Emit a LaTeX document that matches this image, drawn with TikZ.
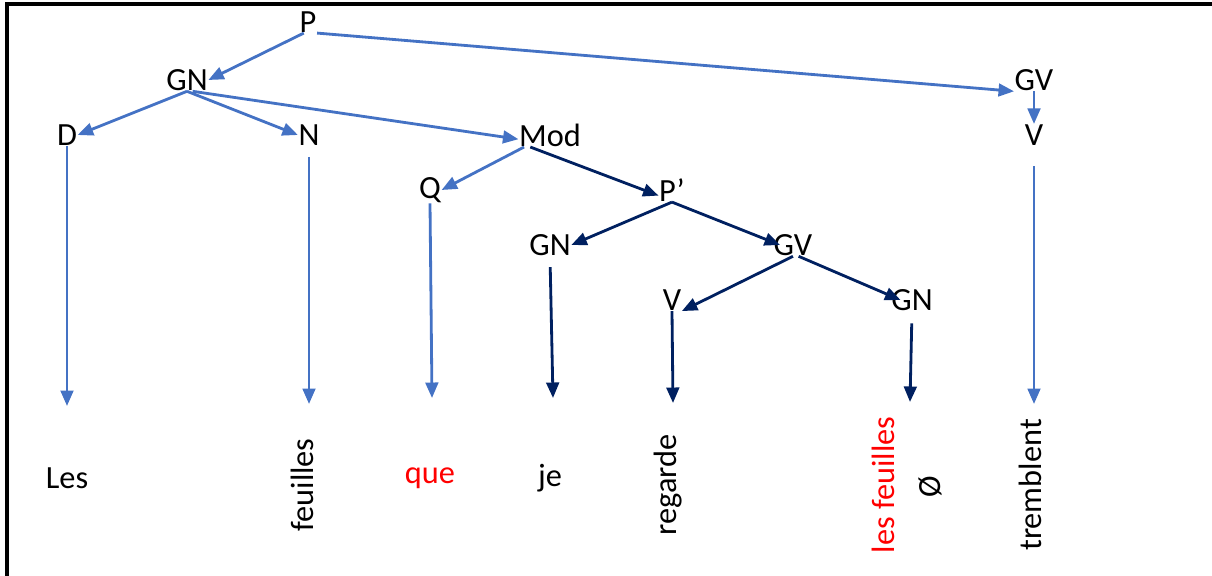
\documentclass[tikz,border=0pt]{standalone}
\usepackage{fontspec}
\setmainfont{Carlito}
\usetikzlibrary{arrows.meta,positioning}
\definecolor{bleu}{RGB}{68,114,196}
\definecolor{marine}{RGB}{0,32,96}
\tikzstyle{cat} = [inner sep=0.5pt, outer sep=0pt, font=\fontsize{23}{27}\selectfont, text=black]
\tikzstyle{mot} = [cat, anchor=center]
\tikzstyle{motv} = [mot, rotate=90]
\tikzstyle{lien} = [draw=bleu, line width=2pt, -{Triangle[length=11pt, width=9pt]}]
\tikzstyle{lien2} = [lien, draw=marine]

\begin{document}
\begin{tikzpicture}[x=0.025cm, y=-0.025cm]
    \useasboundingbox (0,0) rectangle (1212,576);
    \draw[line width=2.2pt] (7,576) -- (7,4) -- (1212,4);

    % categories
    \node[cat] (p) at (308,22) {P};
    \node[cat] (gn) at (187,80) {GN};
    \node[cat] (gv) at (1034,80) {GV};
    \node[cat] (d) at (67,135) {D};
    \node[cat] (n) at (309,135) {N};
    \node[cat] (mod) at (550,135) {Mod};
    \node[cat] (vr) at (1034,135) {V};
    \node[cat] (q) at (430,190) {Q};
    \node[cat] (pp) at (672,190) {P’};
    \node[cat] (gnb) at (550,245) {GN};
    \node[cat] (gvb) at (793,245) {GV};
    \node[cat] (vb) at (672,300) {V};
    \node[cat] (gnc) at (912,300) {GN};

    % words
    \node[mot] (les) at (67,478) {Les};
    \node[motv] (feuilles) at (302,485) {feuilles};
    \node[mot, text=red] (que) at (430,478) {que};
    \node[mot] (je) at (550,478) {je};
    \node[motv] (regarde) at (668,485) {regarde};
    \node[motv, text=red] (lesfeuilles) at (883,485) {les feuilles};
    \node[motv] (vide) at (930,487) {Ø};
    \node[motv] (tremblent) at (1030,485) {tremblent};

    \coordinate (dend) at (67,406);
    \coordinate (nend) at (309,404);
    \coordinate (qend) at (432,398);
    \coordinate (gnbend) at (553,398);
    \coordinate (vbend) at (673,403);
    \coordinate (gncend) at (910,402);
    \coordinate (vrend) at (1034,404);

    \draw[lien] ([xshift=-3pt]p.south) -- (gn.east);
    \draw[lien] (p.south east) -- (gv.south west);
    \draw[lien] (gn.south) -- (d.east);
    \draw[lien] (gn.south) -- (n.west);
    \draw[lien] ([xshift=4pt]gn.south) -- ([yshift=-3pt]mod.west);
    \draw[lien] (gv.south) -- (vr.north);
    \draw[lien] ([xshift=4pt]mod.south west) -- (q.east);

    \draw[lien] (d.south) -- (dend);
    \draw[lien, shorten <=0.27cm] (n.south) -- (nend);
    \draw[lien] (q.south) -- (qend);
    \draw[lien, shorten <=0.5cm] (vr.south) -- (vrend);

    \draw[lien2] ([xshift=-14pt]mod.south) -- ([yshift=-4pt]pp.west);
    \draw[lien2] (pp.south) -- (gnb.east);
    \draw[lien2] (pp.south) -- ([xshift=5pt]gvb.west);
    \draw[lien2] (gvb.south) -- (vb.south east);
    \draw[lien2] ([xshift=4pt]gvb.south) -- ([xshift=7pt]gnc.west);
    \draw[lien2, shorten <=0.27cm] (gnb.south) -- (gnbend);
    \draw[lien2] (vb.south) -- (vbend);
    \draw[lien2, shorten <=0.3cm] (gnc.south) -- (gncend);
\end{tikzpicture}
\end{document}
